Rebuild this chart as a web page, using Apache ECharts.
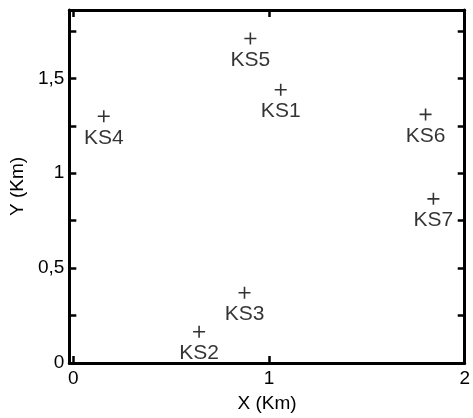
<!DOCTYPE html>
<html>
<head>
<meta charset="utf-8">
<script src="https://cdn.jsdelivr.net/npm/echarts@6/dist/echarts.min.js"></script>
<style>
  html, body { margin: 0; padding: 0; background: #fff; }
  #chart { width: 473px; height: 418px; }
</style>
</head>
<body>
<div id="chart"></div>
<script>
// Station positions (km)
const stations = ['KS1', 'KS2', 'KS3', 'KS4', 'KS5', 'KS6', 'KS7'];
const xKm = [1.06, 0.643, 0.875, 0.156, 0.905, 1.80, 1.84];
const yKm = [1.44, 0.165, 0.37, 1.30, 1.71, 1.31, 0.865];

// Axis ticks and labels
const xTicks = [0, 1];
const xLabels = [0, 1, 2];
const yTicks = [0.25, 0.5, 0.75, 1, 1.25, 1.5, 1.75];
const yLabels = [0, 0.5, 1, 1.5];

const FONT = 'Liberation Sans';
const axisLine = { show: true, onZero: false, lineStyle: { color: '#000', width: 3 } };
const tick = (vals) => ({ show: true, inside: true, length: 7, customValues: vals, lineStyle: { color: '#000', width: 2.5 } });
const fmt = (v) => String(v).replace('.', ',');

const chart = echarts.init(document.getElementById('chart'), null, { renderer: 'canvas' });
chart.setOption({
  animation: false,
  backgroundColor: '#fff',
  grid: { left: 65, right: 6, top: 10, bottom: 46, containLabel: false },
  xAxis: [
    {
      type: 'value', position: 'bottom', min: -0.02, max: 2,
      axisLine: axisLine, axisTick: tick(xTicks), splitLine: { show: false },
      axisLabel: { customValues: xLabels, formatter: fmt, color: '#000', fontFamily: FONT, fontSize: 19, margin: 6 },
      name: 'X (Km)', nameLocation: 'middle', nameGap: 31,
      nameTextStyle: { color: '#000', fontFamily: FONT, fontSize: 19 }
    },
    {
      type: 'value', position: 'top', min: -0.02, max: 2,
      axisLine: axisLine, axisTick: tick(xTicks), axisLabel: { show: false }, splitLine: { show: false }
    }
  ],
  yAxis: [
    {
      type: 'value', position: 'left', min: 0, max: 1.86,
      axisLine: axisLine, axisTick: tick(yTicks), splitLine: { show: false },
      axisLabel: { customValues: yLabels, formatter: fmt, color: '#000', fontFamily: FONT, fontSize: 19, margin: 5 },
      name: 'Y (Km)', nameLocation: 'middle', nameGap: 42,
      nameTextStyle: { color: '#000', fontFamily: FONT, fontSize: 19 }
    },
    {
      type: 'value', position: 'right', min: 0, max: 1.86,
      axisLine: axisLine, axisTick: tick(yTicks), axisLabel: { show: false }, splitLine: { show: false }
    }
  ],
  series: [{
    type: 'scatter',
    symbol: 'path://M5.2,0h1.6v12h-1.6z M0,5.2h12v1.6h-12z',
    symbolSize: 12,
    itemStyle: { color: '#000' },
    label: {
      show: true, position: 'bottom', distance: 5,
      formatter: (p) => p.data[2],
      color: '#000', fontFamily: FONT, fontSize: 21
    },
    data: stations.map((s, i) => [xKm[i], yKm[i], s])
  }]
});
</script>
</body>
</html>
